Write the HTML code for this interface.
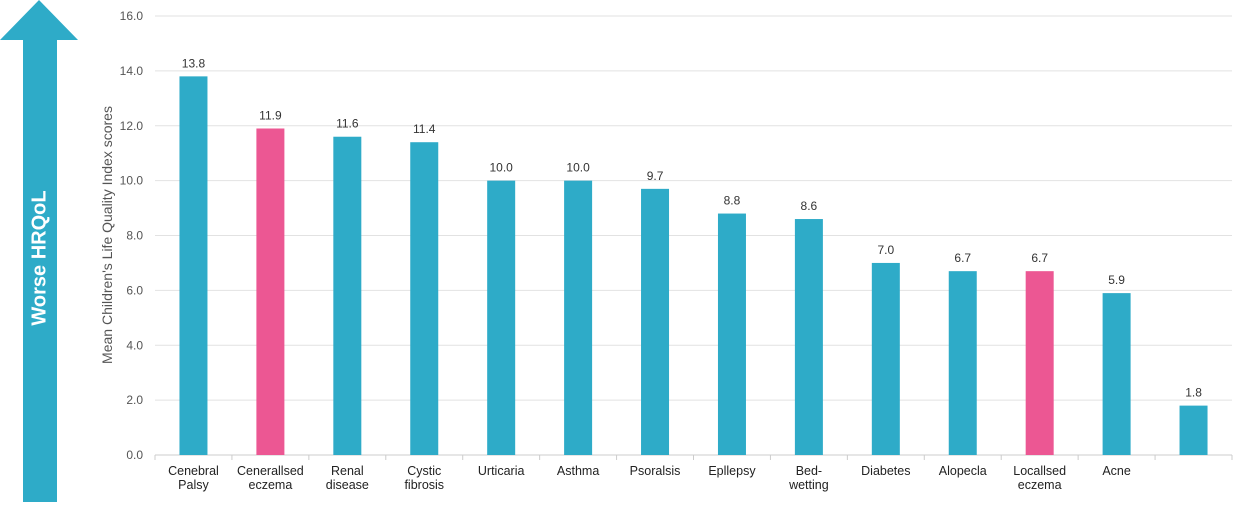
<!DOCTYPE html><html><head><meta charset="utf-8"><style>body{margin:0;background:#fff;font-family:"Liberation Sans",sans-serif}</style></head><body>
<svg id="c" width="1244" height="511" xmlns="http://www.w3.org/2000/svg">
<g>
<polygon points="39,0 78,40 57,40 57,502 23,502 23,40 0,40" fill="#2eabc8"/>
<text x="40" y="258" fill="#fff" font-size="20" font-weight="bold" text-anchor="middle" transform="rotate(-90 40 258)" dominant-baseline="middle">Worse HRQoL</text>
</g>
<text x="112" y="235" font-size="14" fill="#555" text-anchor="middle" transform="rotate(-90 112 235)">Mean Children's Life Quality Index scores</text>
</svg>
<script>
const categories=[["Cenebral","Palsy"],["Cenerallsed","eczema"],["Renal","disease"],["Cystic","fibrosis"],["Urticaria"],["Asthma"],["Psoralsis"],["Epllepsy"],["Bed-","wetting"],["Diabetes"],["Alopecla"],["Locallsed","eczema"],["Acne"],[""]];
const values=[13.8,11.9,11.6,11.4,10.0,10.0,9.7,8.8,8.6,7.0,6.7,6.7,5.9,1.8];
const highlight=[false,true,false,false,false,false,false,false,false,false,false,true,false,false];
const yTicks=[0,2,4,6,8,10,12,14,16];
const svg=document.getElementById('c');const NS='http://www.w3.org/2000/svg';
const x0=155,x1=1232,y0=455,yTop=16,n=categories.length,band=(x1-x0)/n;
const y=v=>y0-(v/16)*(y0-yTop);
const xc=i=>x0+band*(i+0.5);
function mk(t,a,p){const e=document.createElementNS(NS,t);for(const k in a)e.setAttribute(k,a[k]);(p||svg).appendChild(e);return e;}
yTicks.forEach(t=>{
const l=mk('line',{x1:x0,x2:x1,y1:y(t),y2:y(t),stroke:t===0?'#ccc':'#e2e2e2','stroke-width':1});


const tx=mk('text',{x:143,y:y(t)+4,'font-size':12,fill:'#555','text-anchor':'end'});tx.textContent=t.toFixed(1);


});
for(let i=0;i<=n;i++){const l=mk('line',{x1:x0+band*i,x2:x0+band*i,y1:y0,y2:y0+5,stroke:'#ccc'});

}
values.forEach((v,i)=>{
const r=mk('rect',{x:xc(i)-14,y:y(v),width:28,height:y0-y(v),fill:highlight[i]?'#ec5793':'#2eabc8'});


const t=mk('text',{x:xc(i),y:y(v)-9,'font-size':12,fill:'#333','text-anchor':'middle'});t.textContent=v.toFixed(1);


categories[i].forEach((s,j)=>{const c=mk('text',{x:xc(i),y:475+j*14,'font-size':12.5,fill:'#222','text-anchor':'middle'});c.textContent=s;

});
});
</script></body></html>
